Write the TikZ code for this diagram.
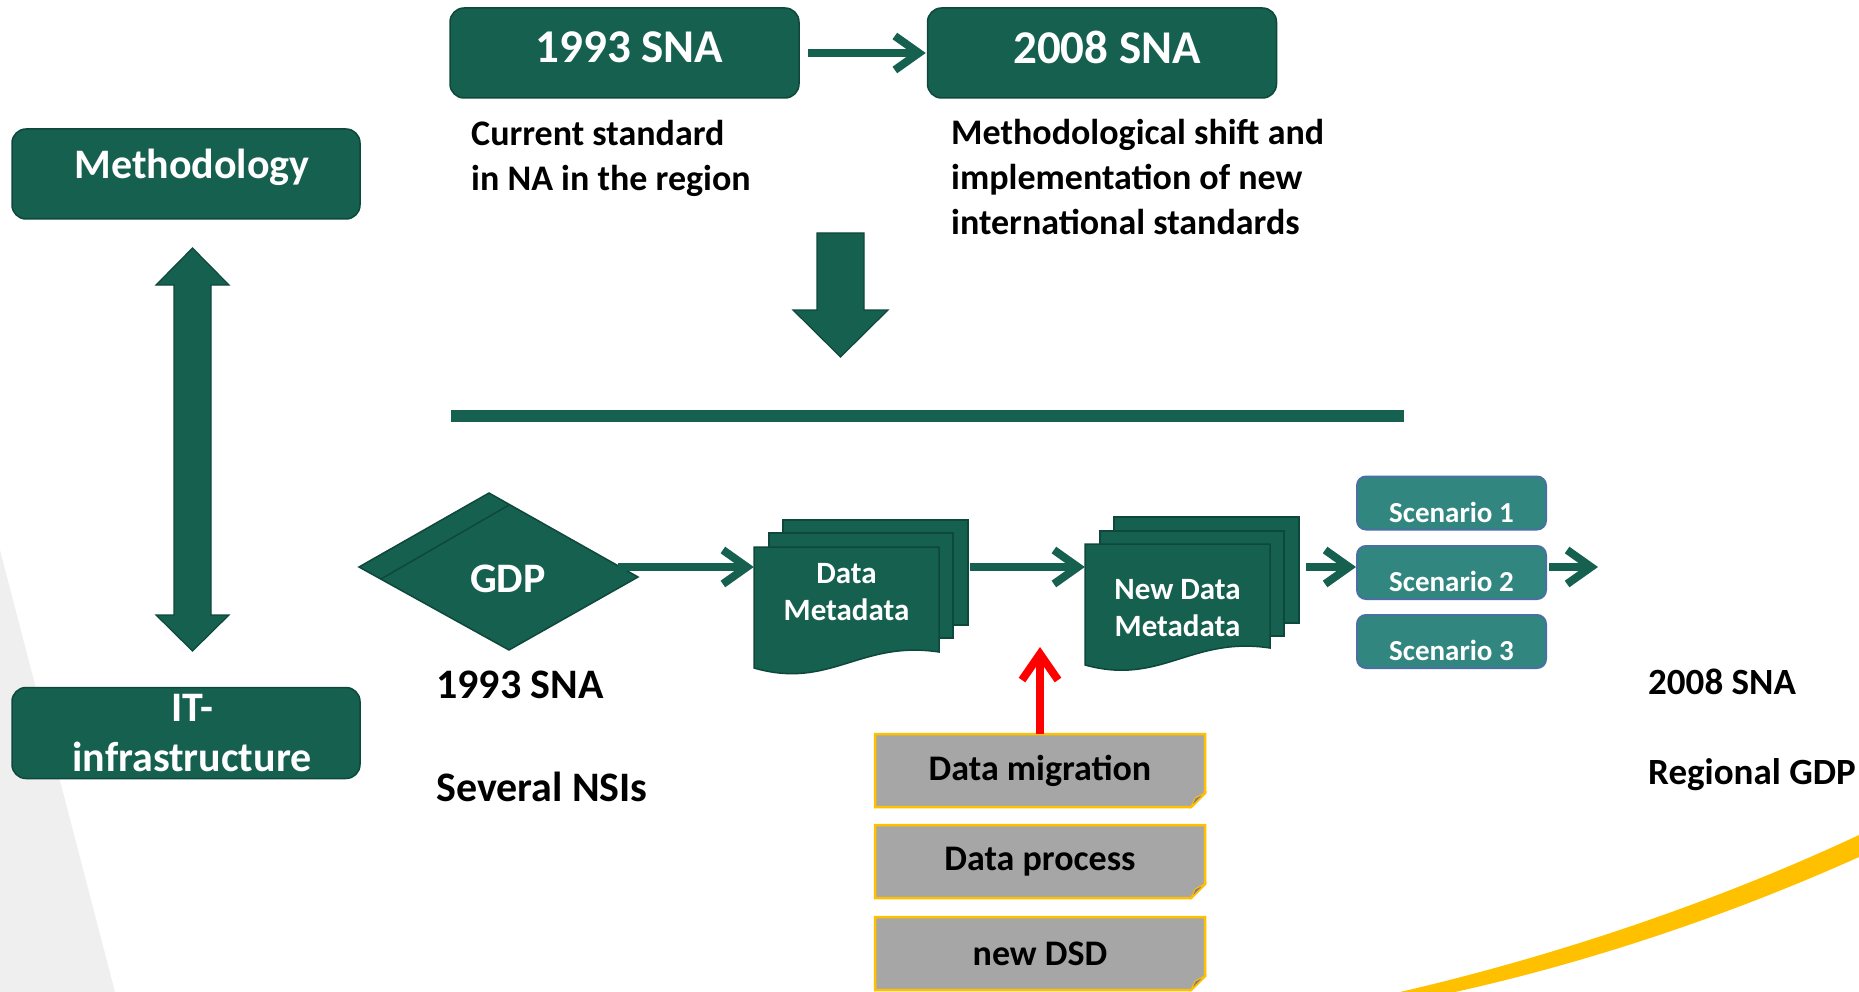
\documentclass[tikz,border=0pt]{standalone}
\usepackage{fontspec}
\setmainfont{Carlito}
\usetikzlibrary{arrows.meta}

\definecolor{sgreen}{RGB}{22,96,80}
\definecolor{sgreenline}{RGB}{14,72,60}
\definecolor{steal}{RGB}{49,134,128}
\definecolor{sblue}{RGB}{72,112,160}
\definecolor{sgold}{RGB}{255,192,0}
\definecolor{sgrey}{RGB}{166,166,166}
\definecolor{sfold}{RGB}{128,128,138}
\definecolor{bgrey}{RGB}{239,239,239}

\begin{document}
\begin{tikzpicture}[x=1pt, y=-1pt,
  box/.style={draw=sgreenline, line width=1.5pt, fill=sgreen, rounded corners=14pt,
    text=white, align=center, inner sep=0pt},
  sheet/.style={draw=sgreenline, line width=1.5pt, fill=sgreen},
  blockarrow/.style={draw=sgreenline, line width=1.2pt, fill=sgreen},
  flow/.style={draw=sgreen, line width=8pt, -{Straight Barb[length=24pt,width=34pt]}},
  doctxt/.style={text=white, font=\bfseries\fontsize{31}{37}\selectfont, align=center,
    minimum width=185pt, inner sep=0pt},
  scen/.style={draw=sblue, line width=2pt, fill=steal, rounded corners=9pt, text=white,
    font=\bfseries\fontsize{29}{35}\selectfont, minimum width=189pt, minimum height=53pt,
    text height=38pt, text depth=0pt, inner sep=0pt},
  notebox/.style={draw=sgold, line width=2.5pt, fill=sgrey},
  foldtri/.style={draw=sgold, line width=1pt, fill=sfold},
  notetxt/.style={font=\bfseries\fontsize{36}{43}\selectfont, minimum width=330pt,
    minimum height=73pt, inner sep=0pt},
  lbl/.style={anchor=base west, inner sep=0pt, font=\bfseries\fontsize{42}{50}\selectfont},
  side/.style={anchor=west, inner sep=0pt, align=left, font=\bfseries\fontsize{36}{45}\selectfont}]

\useasboundingbox (0,0) rectangle (1859,992);

% backdrop
\fill[bgrey] (0,550) -- (115,992) -- (0,992) -- cycle;
\fill[sgold] (1400,992) .. controls (1560,955) and (1720,900) .. (1859,835)
  -- (1859,857) .. controls (1730,915) and (1590,962) .. (1455,992) -- cycle;

% left column
\node[box, minimum width=348pt, minimum height=90pt, text depth=20pt,
  font=\bfseries\fontsize{42}{50}\selectfont] (meth) at (186,174) {\hspace*{12pt}Methodology};
\node[box, minimum width=348pt, minimum height=91pt, font=\bfseries\fontsize{42}{50}\selectfont]
  (itinfra) at (186,733) {\hspace*{12pt}IT-\\\hspace*{12pt}infrastructure};
\filldraw[blockarrow] (192.5,248) -- (229,285) -- (211,285) -- (211,615) -- (229,615)
  -- (192.5,651) -- (156,615) -- (174,615) -- (174,285) -- (156,285) -- cycle;

% standards
\node[box, minimum width=349pt, minimum height=90pt, text depth=12pt,
  font=\bfseries\fontsize{47}{56}\selectfont] (sna93) at (624.5,53) {\hspace*{10pt}1993 SNA};
\node[box, minimum width=349pt, minimum height=90pt, text depth=12pt,
  font=\bfseries\fontsize{47}{56}\selectfont] (sna08) at (1102,53) {\hspace*{10pt}2008 SNA};
\draw[flow, shorten <=8pt, shorten >=1pt] (sna93) -- (sna08);

\node[side] (cur) at (471,158) {Current standard\\in NA in the region};
\node[side] (shift) at (951,177) {Methodological shift and\\implementation of new\\international standards};

\filldraw[blockarrow] (817,233) -- (864,233) -- (864,310) -- (888,310) -- (840.5,357)
  -- (793,310) -- (817,310) -- cycle;
\fill[sgreen] (451,410) rectangle (1404,422);

% GDP
\filldraw[sheet] (359,567) -- (489,493) -- (638,577) -- (509,650) -- cycle;
\draw[sgreenline, line width=1.5pt] (381,579) -- (509,505);
\node[text=white, inner sep=0pt, font=\bfseries\fontsize{42}{50}\selectfont] (gdp) at (508,579) {GDP};
\coordinate (gdpR) at (618,567);

\node[lbl] (lbl93) at (436,698) {1993 SNA};
\node[lbl] (nsis) at (436,801) {Several NSIs};

% data stacks
\filldraw[sheet] (783,520) rectangle (968,625);
\filldraw[sheet] (769,533) rectangle (953,638);
\filldraw[sheet] (754,547) -- (939,547) -- (939,652) .. controls (860,640) and (830,690) .. (754,668) -- cycle;
\node[doctxt] (data) at (846.5,592) {Data\\Metadata};
\coordinate (dataR) at (970,567);

\filldraw[sheet] (1114,517) rectangle (1299,623);
\filldraw[sheet] (1100,531) rectangle (1284,636);
\filldraw[sheet] (1085,544) -- (1270,544) -- (1270,648) .. controls (1191,636) and (1161,686) .. (1085,665) -- cycle;
\node[doctxt] (newdata) at (1177.5,608) {New Data\\Metadata};
\coordinate (newR) at (1306,567);

% scenarios
\node[scen] (sc1) at (1451.5,503) {Scenario 1};
\node[scen] (sc2) at (1451.5,572.5) {Scenario 2};
\node[scen] (sc3) at (1451.5,641.5) {Scenario 3};
\coordinate (out) at (1598,567);

\draw[flow] (gdpR) -- (gdpR -| data.west);
\draw[flow] (dataR) -- (dataR -| newdata.west);
\draw[flow] (newR) -- (newR -| sc2.west);
\draw[flow, shorten <=2pt] (sc2.east |- out) -- (out);

\node[lbl, font=\bfseries\fontsize{37}{44}\selectfont] (lbl08) at (1648,694) {2008 SNA};
\node[lbl, font=\bfseries\fontsize{37}{44}\selectfont] (reg) at (1648,784) {Regional GDP};

% migration steps
\foreach \nm/\ya/\tx in {migr/734/{Data migration}, proc/825/{Data process}, dsd/917/{new DSD}}{
  \filldraw[notebox] (875,\ya) -- (1205,\ya) -- (1205,\ya+59) -- (1191,\ya+73) -- (875,\ya+73) -- cycle;
  \filldraw[foldtri] (1191,\ya+73) -- (1205,\ya+59) -- (1195,\ya+64) -- cycle;
  \node[notetxt] (\nm) at (1040,\ya+36.5) {\tx};
}
\coordinate (migtip) at (1040,647);
\draw[red, line width=8pt, -{Straight Barb[length=26pt,width=36pt]}] (migr.north) -- (migtip);

\end{tikzpicture}
\end{document}
